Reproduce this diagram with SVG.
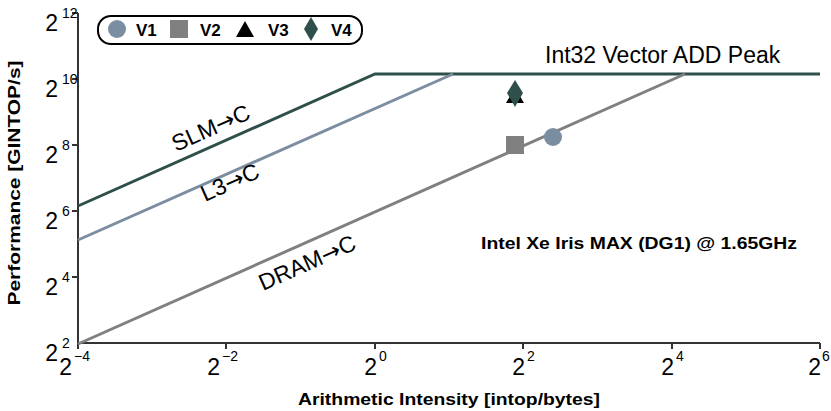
<svg xmlns="http://www.w3.org/2000/svg" width="831" height="411" viewBox="0 0 831 411">
<style>
text{font-family:"Liberation Sans",Arial,sans-serif;fill:#000}
.t{font-size:23px}
.s{font-size:14px}
.b{font-weight:bold;font-size:17px}
.ax{stroke:#333;stroke-width:2;fill:none}
.ar{font-family:"DejaVu Sans",sans-serif}
</style>
<rect width="831" height="411" fill="#fff"/>
<g id="axes">
<path class="ax" d="M78,13V343H820"/>
<path class="ax" d="M72,13H78M72,79H78M72,145H78M72,211H78M72,277H78M78,343v6M226,343v6M375,343v6M523,343v6M672,343v6M820,343v6"/>
<text class="t" x="58" y="31" text-anchor="end">2</text><text class="s" x="62" y="18">12</text>
<text class="t" x="58" y="97" text-anchor="end">2</text><text class="s" x="62" y="84">10</text>
<text class="t" x="58" y="163" text-anchor="end">2</text><text class="s" x="62" y="150">8</text>
<text class="t" x="58" y="229" text-anchor="end">2</text><text class="s" x="62" y="216">6</text>
<text class="t" x="58" y="295" text-anchor="end">2</text><text class="s" x="62" y="282">4</text>
<text class="t" x="58" y="361" text-anchor="end">2</text><text class="s" x="62" y="348">2</text>
<text class="t" x="72" y="375" text-anchor="end">2</text><text class="s" x="74" y="361">−4</text>
<text class="t" x="220" y="375" text-anchor="end">2</text><text class="s" x="222" y="361">−2</text>
<text class="t" x="377" y="375" text-anchor="end">2</text><text class="s" x="379" y="361">0</text>
<text class="t" x="525" y="375" text-anchor="end">2</text><text class="s" x="527" y="361">2</text>
<text class="t" x="674" y="375" text-anchor="end">2</text><text class="s" x="676" y="361">4</text>
<text class="t" x="821" y="375" text-anchor="end">2</text><text class="s" x="822" y="361">6</text>
<text class="b" x="449" y="405" text-anchor="middle" textLength="302" lengthAdjust="spacingAndGlyphs">Arithmetic Intensity [intop/bytes]</text>
<text class="b" transform="translate(20,183) rotate(-90)" text-anchor="middle" textLength="245" lengthAdjust="spacingAndGlyphs">Performance [GINTOP/s]</text>
</g>
<g id="connectors" fill="none" stroke-width="3">
<path d="M78,206L375,74H820" stroke="#2f4f4a"/>
<path d="M78,240L453,74" stroke="#7b8da1"/>
<path d="M78,344L685,74" stroke="#808080"/>
</g>
<g id="labels">
<text class="t" x="545" y="63">Int32 Vector ADD Peak</text>
<text class="t" transform="translate(176,152) rotate(-24)">SLM<tspan class="ar">→</tspan>C</text>
<text class="t" transform="translate(205,202) rotate(-24)">L3<tspan class="ar">→</tspan>C</text>
<text class="t" transform="translate(263,291) rotate(-24)">DRAM<tspan class="ar">→</tspan>C</text>
<text class="b" x="481" y="249" textLength="316" lengthAdjust="spacingAndGlyphs">Intel Xe Iris MAX (DG1) @ 1.65GHz</text>
</g>
<g id="points">
<polygon points="506,103 515,88 524,103" fill="#000"/>
<polygon points="515,80 523,93 515,107 507,93" fill="#2f4f4a"/>
<rect x="506" y="136" width="18" height="18" fill="#808080"/>
<circle cx="553" cy="137" r="9" fill="#7b8da1"/>
</g>
<g id="legend">
<rect x="98" y="16" width="264" height="28" rx="13" fill="#fff" stroke="#000" stroke-width="2"/>
<circle cx="117" cy="29" r="9" fill="#7b8da1"/>
<text class="b" x="136" y="36">V1</text>
<rect x="170" y="20" width="18" height="18" fill="#808080"/>
<text class="b" x="200" y="36">V2</text>
<polygon points="236,37 245,21 254,37" fill="#000"/>
<text class="b" x="268" y="36">V3</text>
<polygon points="311,17 318,29 311,41 304,29" fill="#2f4f4a"/>
<text class="b" x="331" y="36">V4</text>
</g>
</svg>
